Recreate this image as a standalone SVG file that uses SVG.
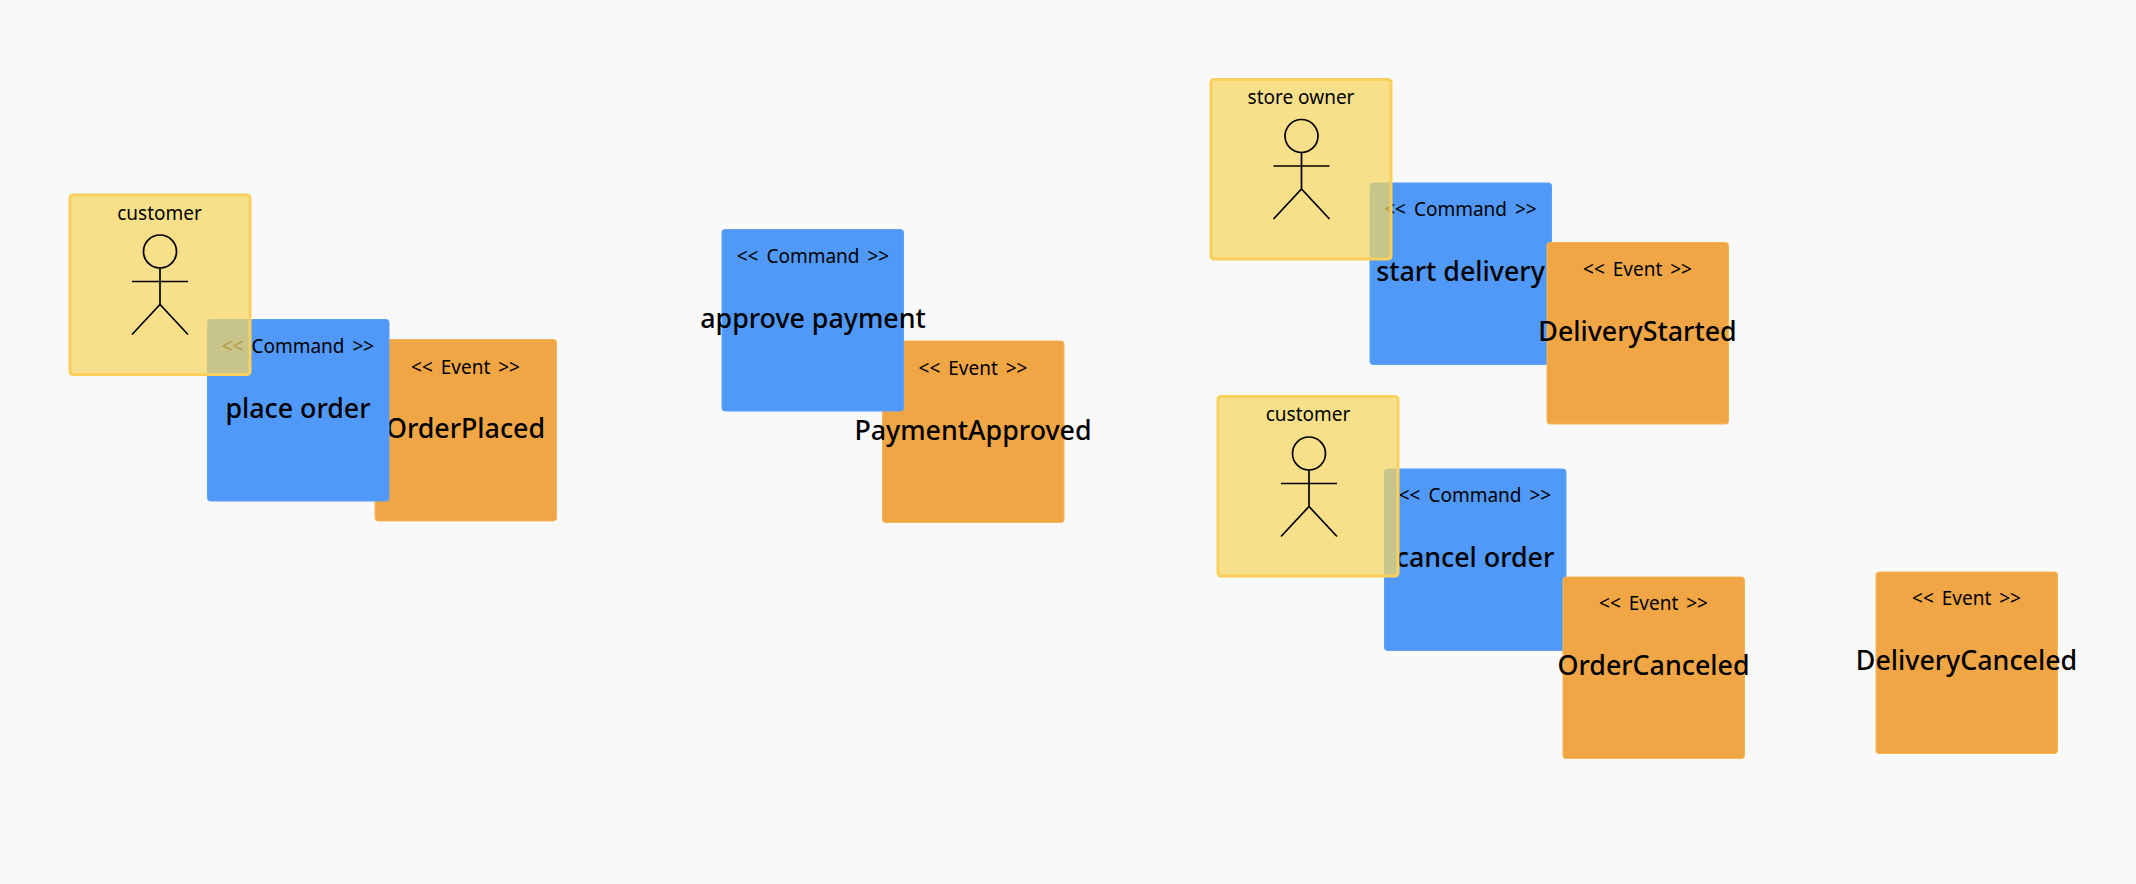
<svg xmlns="http://www.w3.org/2000/svg" width="2136" height="884" viewBox="0 0 2136 884">
<style>
.box{rx:3px;ry:3px;stroke-width:2.5}
.actor{fill:#F7D55E;fill-opacity:.72;stroke:#F9D05C;stroke-width:3;stroke-opacity:1}
.command{fill:#5099F9;stroke:#5A9FF9;stroke-width:1}
.event{fill:#F1A646;stroke:#F5B555;stroke-width:1}
text{font-family:"Noto Sans",sans-serif;fill:#000;text-anchor:middle}
.small{font-size:19px;word-spacing:3px}
.name{font-size:19px}
.big{font-size:26.800px;font-weight:500}
.fig{fill:none;stroke:#000;stroke-width:1.700}
</style>
<defs>
<g id="stick">
<circle class="fig" cx="0" cy="0" r="16.500"/>
<path class="fig" d="M0 16.500V53M-28 30H28M-28 83L0 53L28 83"/>
</g>
</defs>
<rect width="2136" height="884" fill="#F9F9F9"/>
<g id="connectors"/>
<g id="event-orderplaced"><rect class="box event" x="375" y="339.500" width="181.500" height="181.500"/><text class="small" x="465.500" y="373.500">&lt;&lt; Event &gt;&gt;</text><text class="big" x="465.500" y="438">OrderPlaced</text></g>
<g id="command-placeorder"><rect class="box command" x="207.500" y="319.500" width="181.500" height="181.500"/><text class="small" x="298" y="353">&lt;&lt; Command &gt;&gt;</text><text class="big" x="298" y="418">place order</text></g>
<g id="actor-customer-1"><rect class="box actor" x="70" y="195" width="180" height="179.500"/><text class="name" x="159.500" y="220">customer</text><use href="#stick" transform="translate(160 251.500)"/></g>
<g id="event-paymentapproved"><rect class="box event" x="882.500" y="341" width="181.500" height="181.500"/><text class="small" x="973" y="375">&lt;&lt; Event &gt;&gt;</text><text class="big" x="973" y="439.500">PaymentApproved</text></g>
<g id="command-approvepayment"><rect class="box command" x="722" y="229.500" width="181.500" height="181.500"/><text class="small" x="813" y="263">&lt;&lt; Command &gt;&gt;</text><text class="big" x="813" y="328">approve payment</text></g>
<g id="command-startdelivery"><rect class="box command" x="1370" y="183" width="181.500" height="181.500"/><text class="small" x="1460.500" y="216">&lt;&lt; Command &gt;&gt;</text><text class="big" x="1460.500" y="281">start delivery</text></g>
<g id="event-deliverystarted"><rect class="box event" x="1547" y="242.500" width="181.500" height="181.500"/><text class="small" x="1637.500" y="276">&lt;&lt; Event &gt;&gt;</text><text class="big" x="1637.500" y="341">DeliveryStarted</text></g>
<g id="actor-storeowner"><rect class="box actor" x="1211" y="79.500" width="180" height="179.500"/><text class="name" x="1301" y="104">store owner</text><use href="#stick" transform="translate(1301.500 136)"/></g>
<g id="command-cancelorder"><rect class="box command" x="1384.500" y="469" width="181.500" height="181.500"/><text class="small" x="1475" y="502">&lt;&lt; Command &gt;&gt;</text><text class="big" x="1475" y="567">cancel order</text></g>
<g id="event-ordercanceled"><rect class="box event" x="1563" y="577" width="181.500" height="181.500"/><text class="small" x="1653.500" y="610">&lt;&lt; Event &gt;&gt;</text><text class="big" x="1653.500" y="675">OrderCanceled</text></g>
<g id="actor-customer-2"><rect class="box actor" x="1218" y="396.500" width="180" height="179.500"/><text class="name" x="1308" y="421">customer</text><use href="#stick" transform="translate(1309 453.500)"/></g>
<g id="event-deliverycanceled"><rect class="box event" x="1876" y="572" width="181.500" height="181.500"/><text class="small" x="1966.500" y="605">&lt;&lt; Event &gt;&gt;</text><text class="big" x="1966.500" y="670">DeliveryCanceled</text></g>
</svg>
